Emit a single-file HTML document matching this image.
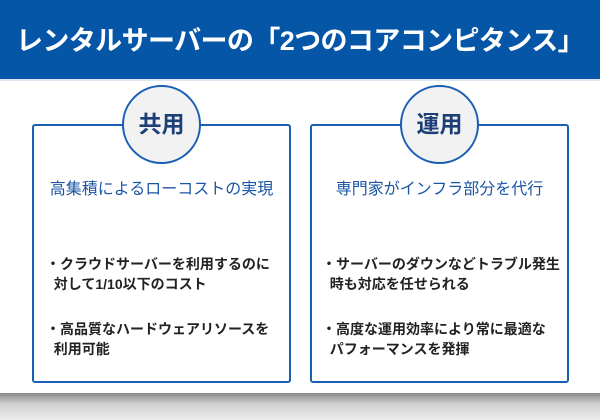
<!DOCTYPE html>
<html><head><meta charset="utf-8"><style>
body{margin:0;width:600px;height:420px;overflow:hidden;background:#fff;font-family:"Liberation Sans","Noto Sans CJK JP",sans-serif;position:relative}
.hd{position:absolute;left:0;top:0;width:600px;height:79px;background:#0656a8;border-bottom:2px solid #dfe6ef}
.hd div{position:absolute;left:0;width:600px;top:19px;text-align:center;color:#fff;font-weight:bold;font-size:27px;letter-spacing:-0.6px;white-space:nowrap}
.band{position:absolute;left:0;top:393px;width:600px;height:27px;background:linear-gradient(#8a8a8a,#d0d0d0 40%,#ececec)}
.box{position:absolute;top:124px;width:255px;height:255px;border:2px solid #1a5fb4;border-radius:3px;background:#fff}
.c{position:absolute;top:85px;width:75px;height:75px;border:2px solid #1a5fb4;border-radius:50%;background:#f2f2f2;text-align:center;line-height:75px;font-size:23px;font-weight:bold;color:#1c3f78}
.sub{position:absolute;top:175px;width:259px;text-align:center;font-size:16px;color:#1c55a6;white-space:nowrap}
.b{position:absolute;font-size:14px;line-height:20px;color:#222;font-weight:bold;white-space:nowrap}
</style></head><body>
<div class="hd"><div>レンタルサーバーの「2つのコアコンピタンス」</div></div>
<div class="band"></div>
<div class="box" style="left:32px"></div>
<div class="box" style="left:310px"></div>
<div class="c" style="left:122px">共用</div>
<div class="c" style="left:400px">運用</div>
<div class="sub" style="left:32px">高集積によるローコストの実現</div>
<div class="sub" style="left:310px">専門家がインフラ部分を代行</div>
<div class="b" style="left:46px;top:254px">・クラウドサーバーを利用するのに<br>&nbsp;&nbsp;対して1/10以下のコスト</div>
<div class="b" style="left:46px;top:319px">・高品質なハードウェアリソースを<br>&nbsp;&nbsp;利用可能</div>
<div class="b" style="left:322px;top:254px">・サーバーのダウンなどトラブル発生<br>&nbsp;&nbsp;時も対応を任せられる</div>
<div class="b" style="left:322px;top:319px">・高度な運用効率により常に最適な<br>&nbsp;&nbsp;パフォーマンスを発揮</div>
</body></html>
